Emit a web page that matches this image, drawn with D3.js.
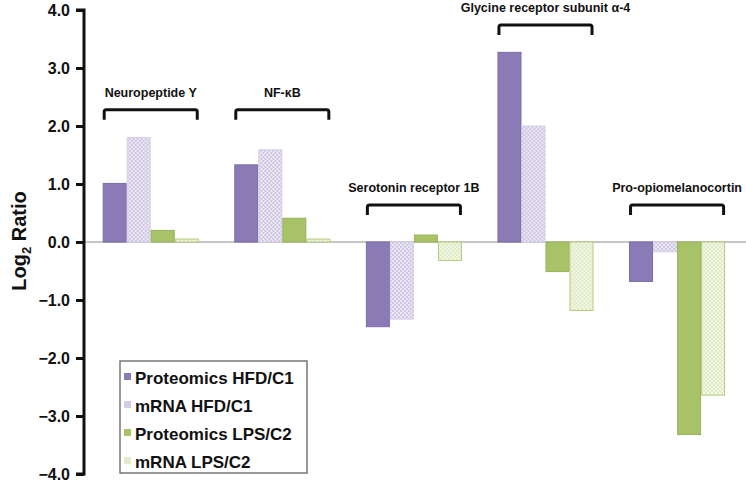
<!DOCTYPE html>
<html><head><meta charset="utf-8">
<script src="https://cdn.jsdelivr.net/npm/d3@7"></script>
<style>
html,body{margin:0;padding:0;background:#fff;}
svg{display:block;font-family:"Liberation Sans",Arial,Helvetica,sans-serif;}
</style></head>
<body><svg id="chart" width="746" height="483"></svg>
<script>
// ---- data ----
const genes = ["Neuropeptide Y", "NF-\u03baB", "Serotonin receptor 1B", "Glycine receptor subunit \u03b1-4", "Pro-opiomelanocortin"];
const seriesNames = ["Proteomics HFD/C1", "mRNA HFD/C1", "Proteomics LPS/C2", "mRNA LPS/C2"];
const proteomicsHFD = [1.01, 1.33, -1.46, 3.27, -0.68];
const mrnaHFD = [1.80, 1.59, -1.33, 2.00, -0.17];
const proteomicsLPS = [0.20, 0.41, 0.12, -0.51, -3.32];
const mrnaLPS = [0.05, 0.05, -0.32, -1.18, -2.64];
const labelLevels = [2.28, 2.28, 0.64, 3.74, 0.64]; // bracket level (log2 units)
const yTicks = [4, 3, 2, 1, 0, -1, -2, -3, -4];

const seriesValues = [proteomicsHFD, mrnaHFD, proteomicsLPS, mrnaLPS];

// ---- setup ----
const svg = d3.select("#chart");
const defs = svg.append("defs");
function checker(id, c1, c2){
  const p = defs.append("pattern").attr("id", id).attr("width", 4).attr("height", 4)
    .attr("patternUnits", "userSpaceOnUse");
  p.append("rect").attr("width", 4).attr("height", 4).attr("fill", c2);
  p.append("rect").attr("width", 2).attr("height", 2).attr("fill", c1);
  p.append("rect").attr("x", 2).attr("y", 2).attr("width", 2).attr("height", 2).attr("fill", c1);
}
checker("pPurple", "#cfc6e3", "#ece8f4");
checker("pGreen", "#dfe9c3", "#f3f7e6");

const fills = ["#8a7bb6", "url(#pPurple)", "#a8c268", "url(#pGreen)"];
const strokes = ["#7b6ca6", "#d6cfe6", "#98b25a", "#b5cb7e"];
const swatch = ["#8a7bb6", "#d4cce6", "#a8c268", "#e3ecc8"];

const y = d3.scaleLinear().domain([-4, 4]).range([474, 10]);
const x0 = d3.scaleBand().domain(genes).range([102.7, 725.1]).paddingInner(0.27).paddingOuter(0);
const x1 = d3.scaleBand().domain(seriesNames).range([0, x0.bandwidth()]).padding(0);

// zero line
svg.append("line").attr("x1", 85).attr("x2", 746).attr("y1", y(0)).attr("y2", y(0))
  .attr("stroke", "#b3b3b3").attr("stroke-width", 1.5);

// bars
genes.forEach((g, gi) => {
  const grp = svg.append("g").attr("transform", `translate(${x0(g)},0)`);
  seriesNames.forEach((s, si) => {
    const v = seriesValues[si][gi];
    grp.append("rect")
      .attr("x", x1(s) + 0.5)
      .attr("width", x1.bandwidth() - 1)
      .attr("y", Math.min(y(v), y(0)))
      .attr("height", Math.abs(y(v) - y(0)))
      .attr("fill", fills[si])
      .attr("stroke", strokes[si]).attr("stroke-width", 1);
  });
  // bracket
  const by = y(labelLevels[gi]);
  const xl = x0(g) + 1.5, xr = x0(g) + x0.bandwidth() - 1.5;
  svg.append("path")
    .attr("d", `M${xl},${by + 10} L${xl},${by + 2} Q${xl},${by} ${xl + 2},${by} L${xr - 2},${by} Q${xr},${by} ${xr},${by + 2} L${xr},${by + 10}`)
    .attr("fill", "none").attr("stroke", "#111").attr("stroke-width", 3);
  svg.append("text").attr("x", x0(g) + x0.bandwidth() / 2).attr("y", by - 13)
    .attr("text-anchor", "middle").attr("font-size", 12.5).attr("font-weight", "bold")
    .attr("fill", "#111").text(g);
});

// axis
const axis = d3.axisLeft(y).tickValues(yTicks).tickSize(8).tickFormat(d3.format(".1f"));
const ag = svg.append("g").attr("transform", "translate(84,0)").call(axis);
ag.select(".domain").attr("stroke", "#111").attr("stroke-width", 3)
  .attr("d", `M-8,${y(4)}H0V${y(-4)}H-8`);
ag.selectAll(".tick line").attr("stroke", "#111").attr("stroke-width", 3);
ag.selectAll(".tick text").attr("font-size", 16).attr("font-weight", "bold")
  .attr("fill", "#111").attr("x", -14)
  .attr("font-family", "'Liberation Sans',Arial,sans-serif");

// y title
const yt = svg.append("text").attr("transform", "translate(26,241) rotate(-90)")
  .attr("text-anchor", "middle").attr("font-size", 20).attr("font-weight", "bold").attr("fill", "#111");
yt.append("tspan").text("Log");
yt.append("tspan").attr("font-size", 13).attr("dy", 5).text("2");
yt.append("tspan").attr("dy", -5).text(" Ratio");

// legend
const lg = svg.append("g");
lg.append("rect").attr("x", 120).attr("y", 361).attr("width", 187).attr("height", 112)
  .attr("fill", "#fff").attr("stroke", "#777").attr("stroke-width", 1.5);
seriesNames.forEach((s, i) => {
  const ry = 378 + i * 28;
  lg.append("rect").attr("x", 124).attr("y", ry - 5).attr("width", 7).attr("height", 7)
    .attr("fill", swatch[i]);
  lg.append("text").attr("x", 135).attr("y", ry + 6).attr("font-size", 17)
    .attr("font-weight", "bold").attr("fill", "#111").text(s);
});
</script></body></html>
